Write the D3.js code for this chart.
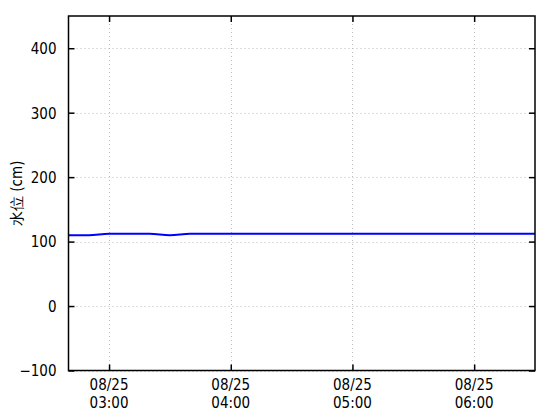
<!DOCTYPE html>
<html><head><meta charset="utf-8">
<script src="https://cdn.jsdelivr.net/npm/d3@7"></script>
<style>body{margin:0;background:#fff}svg{display:block}text{font-family:"DejaVu Sans Condensed","DejaVu Sans",sans-serif;font-stretch:condensed;font-size:15px;fill:#000}</style>
</head><body>
<script>
const times = ["02:40","02:50","03:00","03:10","03:20","03:30","03:40","03:50","04:00","04:10","04:20","04:30","04:40","04:50","05:00","05:10","05:20","05:30","05:40","05:50","06:00","06:10","06:20","06:30"];
const levels = [110,110,112,112,112,110,112,112,112,112,112,112,112,112,112,112,112,112,112,112,112,112,112,112];
const yTicks = [-100,0,100,200,300,400];
const xTicks = ["03:00","04:00","05:00","06:00"];
const dateLabel = "08/25";
const yLabel = "水位 (cm)";

const W=560,H=420, L=68.5, R=535, T=16, B=370.5;
const parse = s => new Date(2020,7,25,+s.slice(0,2),+s.slice(3));
const x = d3.scaleTime().domain([parse("02:40"),parse("06:30")]).range([L,R]);
const y = d3.scaleLinear().domain([-100,450]).range([B,T]);
const svg = d3.select("body").append("svg").attr("width",W).attr("height",H);

// grid
const g = svg.append("g");
g.selectAll("line.gy").data(yTicks).join("line").attr("x1",L).attr("x2",R)
 .attr("y1",d=>Math.round(y(d))+0.5).attr("y2",d=>Math.round(y(d))+0.5)
 .attr("stroke","#bbb").attr("stroke-dasharray","1,3");
g.selectAll("line.gx").data(xTicks).join("line").attr("y1",T).attr("y2",B)
 .attr("x1",d=>Math.round(x(parse(d)))+0.5).attr("x2",d=>Math.round(x(parse(d)))+0.5)
 .attr("stroke","#bbb").attr("stroke-dasharray","1,3");

// line
const data = times.map((t,i)=>({t:parse(t),v:levels[i]}));
svg.append("path").datum(data).attr("fill","none").attr("stroke","#0000ff").attr("stroke-width",2)
 .attr("d",d3.line().x(d=>x(d.t)).y(d=>y(d.v)).curve(d3.curveMonotoneX));

// frame
svg.append("rect").attr("x",L).attr("y",T).attr("width",R-L).attr("height",B-T)
 .attr("fill","none").attr("stroke","#000").attr("stroke-width",1.5);

// axes (ticks inward)
const yAxisL = d3.axisLeft(y).tickValues(yTicks).tickSize(-6).tickPadding(12).tickFormat(d3.format("d"));
const ax = svg.append("g").attr("transform",`translate(${L},0)`).call(yAxisL);
ax.select(".domain").remove();
ax.selectAll("line").attr("stroke-width",1.5);
ax.selectAll("text").attr("font-family",null).attr("font-size",null).attr("dy","0.36em");
svg.selectAll("g").attr("font-family",null).attr("font-size",null);
const ar = svg.append("g").attr("transform",`translate(${R},0)`).call(d3.axisRight(y).tickValues(yTicks).tickSize(-6).tickFormat(""));
ar.select(".domain").remove(); ar.selectAll("line").attr("stroke-width",1.5);

const xb = svg.append("g").attr("transform",`translate(0,${B})`)
 .call(d3.axisBottom(x).tickValues(xTicks.map(parse)).tickSize(-6).tickFormat(""));
xb.select(".domain").remove(); xb.selectAll("line").attr("stroke-width",1.5);
const xt = svg.append("g").attr("transform",`translate(0,${T})`)
 .call(d3.axisTop(x).tickValues(xTicks.map(parse)).tickSize(-6).tickFormat(""));
xt.select(".domain").remove(); xt.selectAll("line").attr("stroke-width",1.5);

const lab = svg.append("g");
xTicks.forEach(t=>{
  const xx = x(parse(t));
  lab.append("text").attr("x",xx).attr("y",390).attr("text-anchor","middle").text(dateLabel);
  lab.append("text").attr("x",xx).attr("y",408).attr("text-anchor","middle").text(t);
});

svg.append("text").attr("transform",`translate(22,${(T+B)/2}) rotate(-90)`)
 .attr("text-anchor","middle").text(yLabel);
</script>
</body></html>
